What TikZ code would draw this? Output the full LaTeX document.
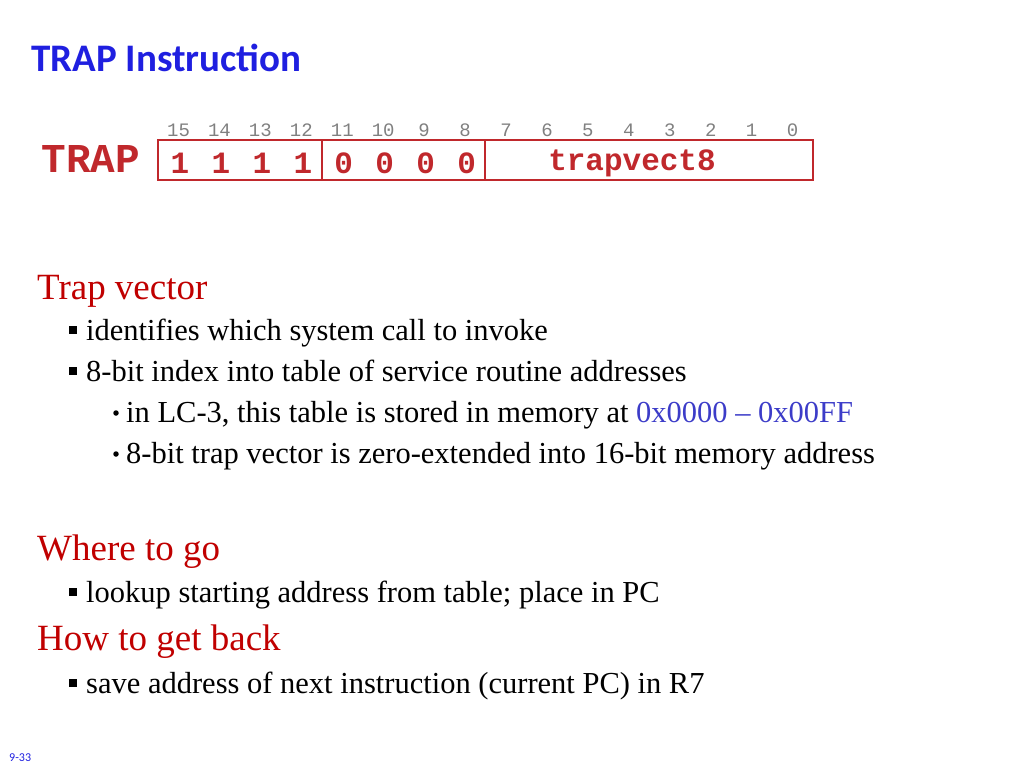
\documentclass[tikz,border=0pt]{standalone}
\usepackage{fontspec}
\setmainfont{Liberation Serif}
\newfontfamily\carlitofam{Carlito}
\newfontfamily\monofam{Liberation Mono}
\definecolor{tblue}{HTML}{1F1FE0}
\definecolor{tred}{HTML}{C00000}
\definecolor{bred}{HTML}{C0282C}
\definecolor{lblue}{HTML}{3C3CC8}
\begin{document}
\begin{tikzpicture}[x=1pt,y=-1pt,
 txt/.style={anchor=base west,inner sep=0pt,font=\fontsize{30.5}{32}\selectfont},
 head/.style={anchor=base west,inner sep=0pt,text=tred,font=\fontsize{37}{40}\selectfont},
 bnum/.style={inner sep=0pt,text=gray,font=\monofam\fontsize{19}{20}\selectfont},
 fld/.style={inner sep=0pt,text=bred,font=\monofam\bfseries\fontsize{31}{32}\selectfont},
 sq/.style={fill=black,minimum size=8pt,inner sep=0pt},
 dot/.style={circle,fill=black,minimum size=5.5pt,inner sep=0pt}]
\useasboundingbox (0,0) rectangle (1024,768);
\node[anchor=base west,inner sep=0pt,text=tblue,font=\carlitofam\bfseries\fontsize{39}{42}\selectfont] (title) at (31,71) {TRAP Instruction};
\node[inner sep=0pt,text=bred,font=\monofam\bfseries\fontsize{41}{42}\selectfont] (trap) at (91,159) {TRAP};
\draw[bred,line width=1.5pt] (158,140) rectangle (813,180);
\draw[bred,line width=1.5pt] (322,140) -- (322,180) (485,140) -- (485,180);
\foreach \i in {0,...,15}{
 \node[bnum] (b\i) at ({158+40.94*(15-\i)+20.5},130) {\i};}
\foreach \i/\v in {0/1,1/1,2/1,3/1,4/0,5/0,6/0,7/0}{
 \node[fld] (f\i) at ({158+40.94*\i+22},163) {\v};}
\node[fld] (tv) at (632,163) {trapvect8};
\node[head] (h1) at (37,299) {Trap vector};
\node[sq] (s1) at (73,330) {};
\node[txt] (l1) at (86,340) {identifies which system call to invoke};
\node[sq] (s2) at (73,371) {};
\node[txt] (l2) at (86,381) {8-bit index into table of service routine addresses};
\node[dot] (d1) at (116,413) {};
\node[txt] (l3) at (126,422) {in LC-3, this table is stored in memory at \textcolor{lblue}{0x0000 – 0x00FF}};
\node[dot] (d2) at (116,454) {};
\node[txt] (l4) at (126,463) {8-bit trap vector is zero-extended into 16-bit memory address};
\node[head] (h2) at (37,560) {Where to go};
\node[sq] (s3) at (73,592) {};
\node[txt] (l5) at (86,602) {lookup starting address from table; place in PC};
\node[head] (h3) at (37,650) {How to get back};
\node[sq] (s4) at (73,683) {};
\node[txt] (l6) at (86,693) {save address of next instruction (current PC) in R7};
\node[anchor=base west,inner sep=0pt,text=tblue,font=\carlitofam\fontsize{12}{13}\selectfont] (pg) at (9,761) {9-33};
\end{tikzpicture}
\end{document}
